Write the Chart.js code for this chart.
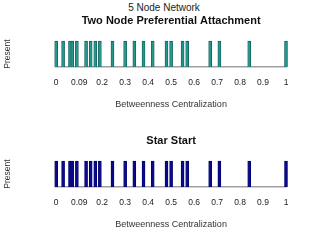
<!DOCTYPE html>
<html>
<head>
<meta charset="utf-8">
<script src="https://cdn.jsdelivr.net/npm/chart.js@4"></script>
<style>
  body { margin: 0; background: #fff; width: 320px; height: 240px; overflow: hidden; font-family: "Liberation Sans", Arial, sans-serif; }
  .box { position: absolute; left: 0; width: 320px; height: 120px; }
  #suptitle { position: absolute; top: 2px; left: 0; width: 328px; text-align: center; font-size: 10px; color: #222; }
</style>
</head>
<body>
<div id="suptitle">5 Node Network</div>
<div class="box" style="top:0"><canvas id="prefChart"></canvas></div>
<div class="box" style="top:120px"><canvas id="starChart"></canvas></div>
<script>
// betweenness centralization values seen in each model
const prefValues = [0, 0.03, 0.06, 0.07, 0.09, 0.13, 0.15, 0.17, 0.19, 0.245, 0.30, 0.34, 0.38, 0.42, 0.48, 0.50, 0.55, 0.57, 0.67, 0.71, 0.84, 1.0];
const starValues = [0, 0.03, 0.06, 0.07, 0.09, 0.13, 0.15, 0.17, 0.19, 0.245, 0.30, 0.34, 0.38, 0.42, 0.48, 0.50, 0.55, 0.57, 0.67, 0.71, 0.84, 1.0];
const present = [1, 1, 1, 1, 1, 1, 1, 1, 1, 1, 1, 1, 1, 1, 1, 1, 1, 1, 1, 1, 1, 1];
const tickLabels = ["0", "0.09", "0.2", "0.3", "0.4", "0.5", "0.6", "0.7", "0.8", "0.9", "1"];

const fontFamily = "'Liberation Sans', Arial, sans-serif";

function makeChart(id, title, values, fill, edge) {
  const ctx = document.getElementById(id).getContext("2d");
  return new Chart(ctx, {
    type: "bar",
    data: {
      datasets: [
        {
          data: values.map((v, i) => ({ x: v, y: present[i] })),
          backgroundColor: fill,
          borderColor: edge,
          borderWidth: 0.8,
          barThickness: 3,
          clip: 6,
        },
      ],
    },
    options: {
      responsive: true,
      maintainAspectRatio: false,
      animation: false,
      layout: { padding: { left: 0, right: 34, top: 0, bottom: 10 } },
      plugins: {
        legend: { display: false },
        tooltip: { enabled: false },
        title: {
          display: true,
          fullSize: false,
          text: title,
          color: "#111",
          font: { family: fontFamily, size: 11, weight: "bold" },
          padding: { top: 14, bottom: 14 },
        },
      },
      scales: {
        x: {
          type: "linear",
          offset: false,
          min: 0,
          max: 1,
          grid: { display: false, drawTicks: false },
          border: { display: true, color: "#a0a0a0", width: 1.5 },
          ticks: {
            stepSize: 0.1,
            autoSkip: false,
            maxRotation: 0,
            padding: 11,
            color: "#222",
            font: { family: fontFamily, size: 8.5 },
            callback: (v, i) => tickLabels[i],
          },
          title: {
            display: true,
            text: "Betweenness Centralization",
            color: "#333",
            font: { family: fontFamily, size: 9 },
            padding: { top: 0, bottom: 0 },
          },
        },
        y: {
          min: 0,
          max: 1,
          grid: { display: false, drawTicks: false },
          border: { display: false },
          ticks: { display: false },
          title: {
            display: true,
            text: "Present",
            color: "#333",
            font: { family: fontFamily, size: 8.5 },
            padding: { top: 3, bottom: 43 },
          },
        },
      },
    },
  });
}

makeChart("prefChart", "Two Node Preferential Attachment", prefValues, "#26968c", "#11605a");
makeChart("starChart", "Star Start", starValues, "#0a0a8a", "#000070");
</script>
</body>
</html>
